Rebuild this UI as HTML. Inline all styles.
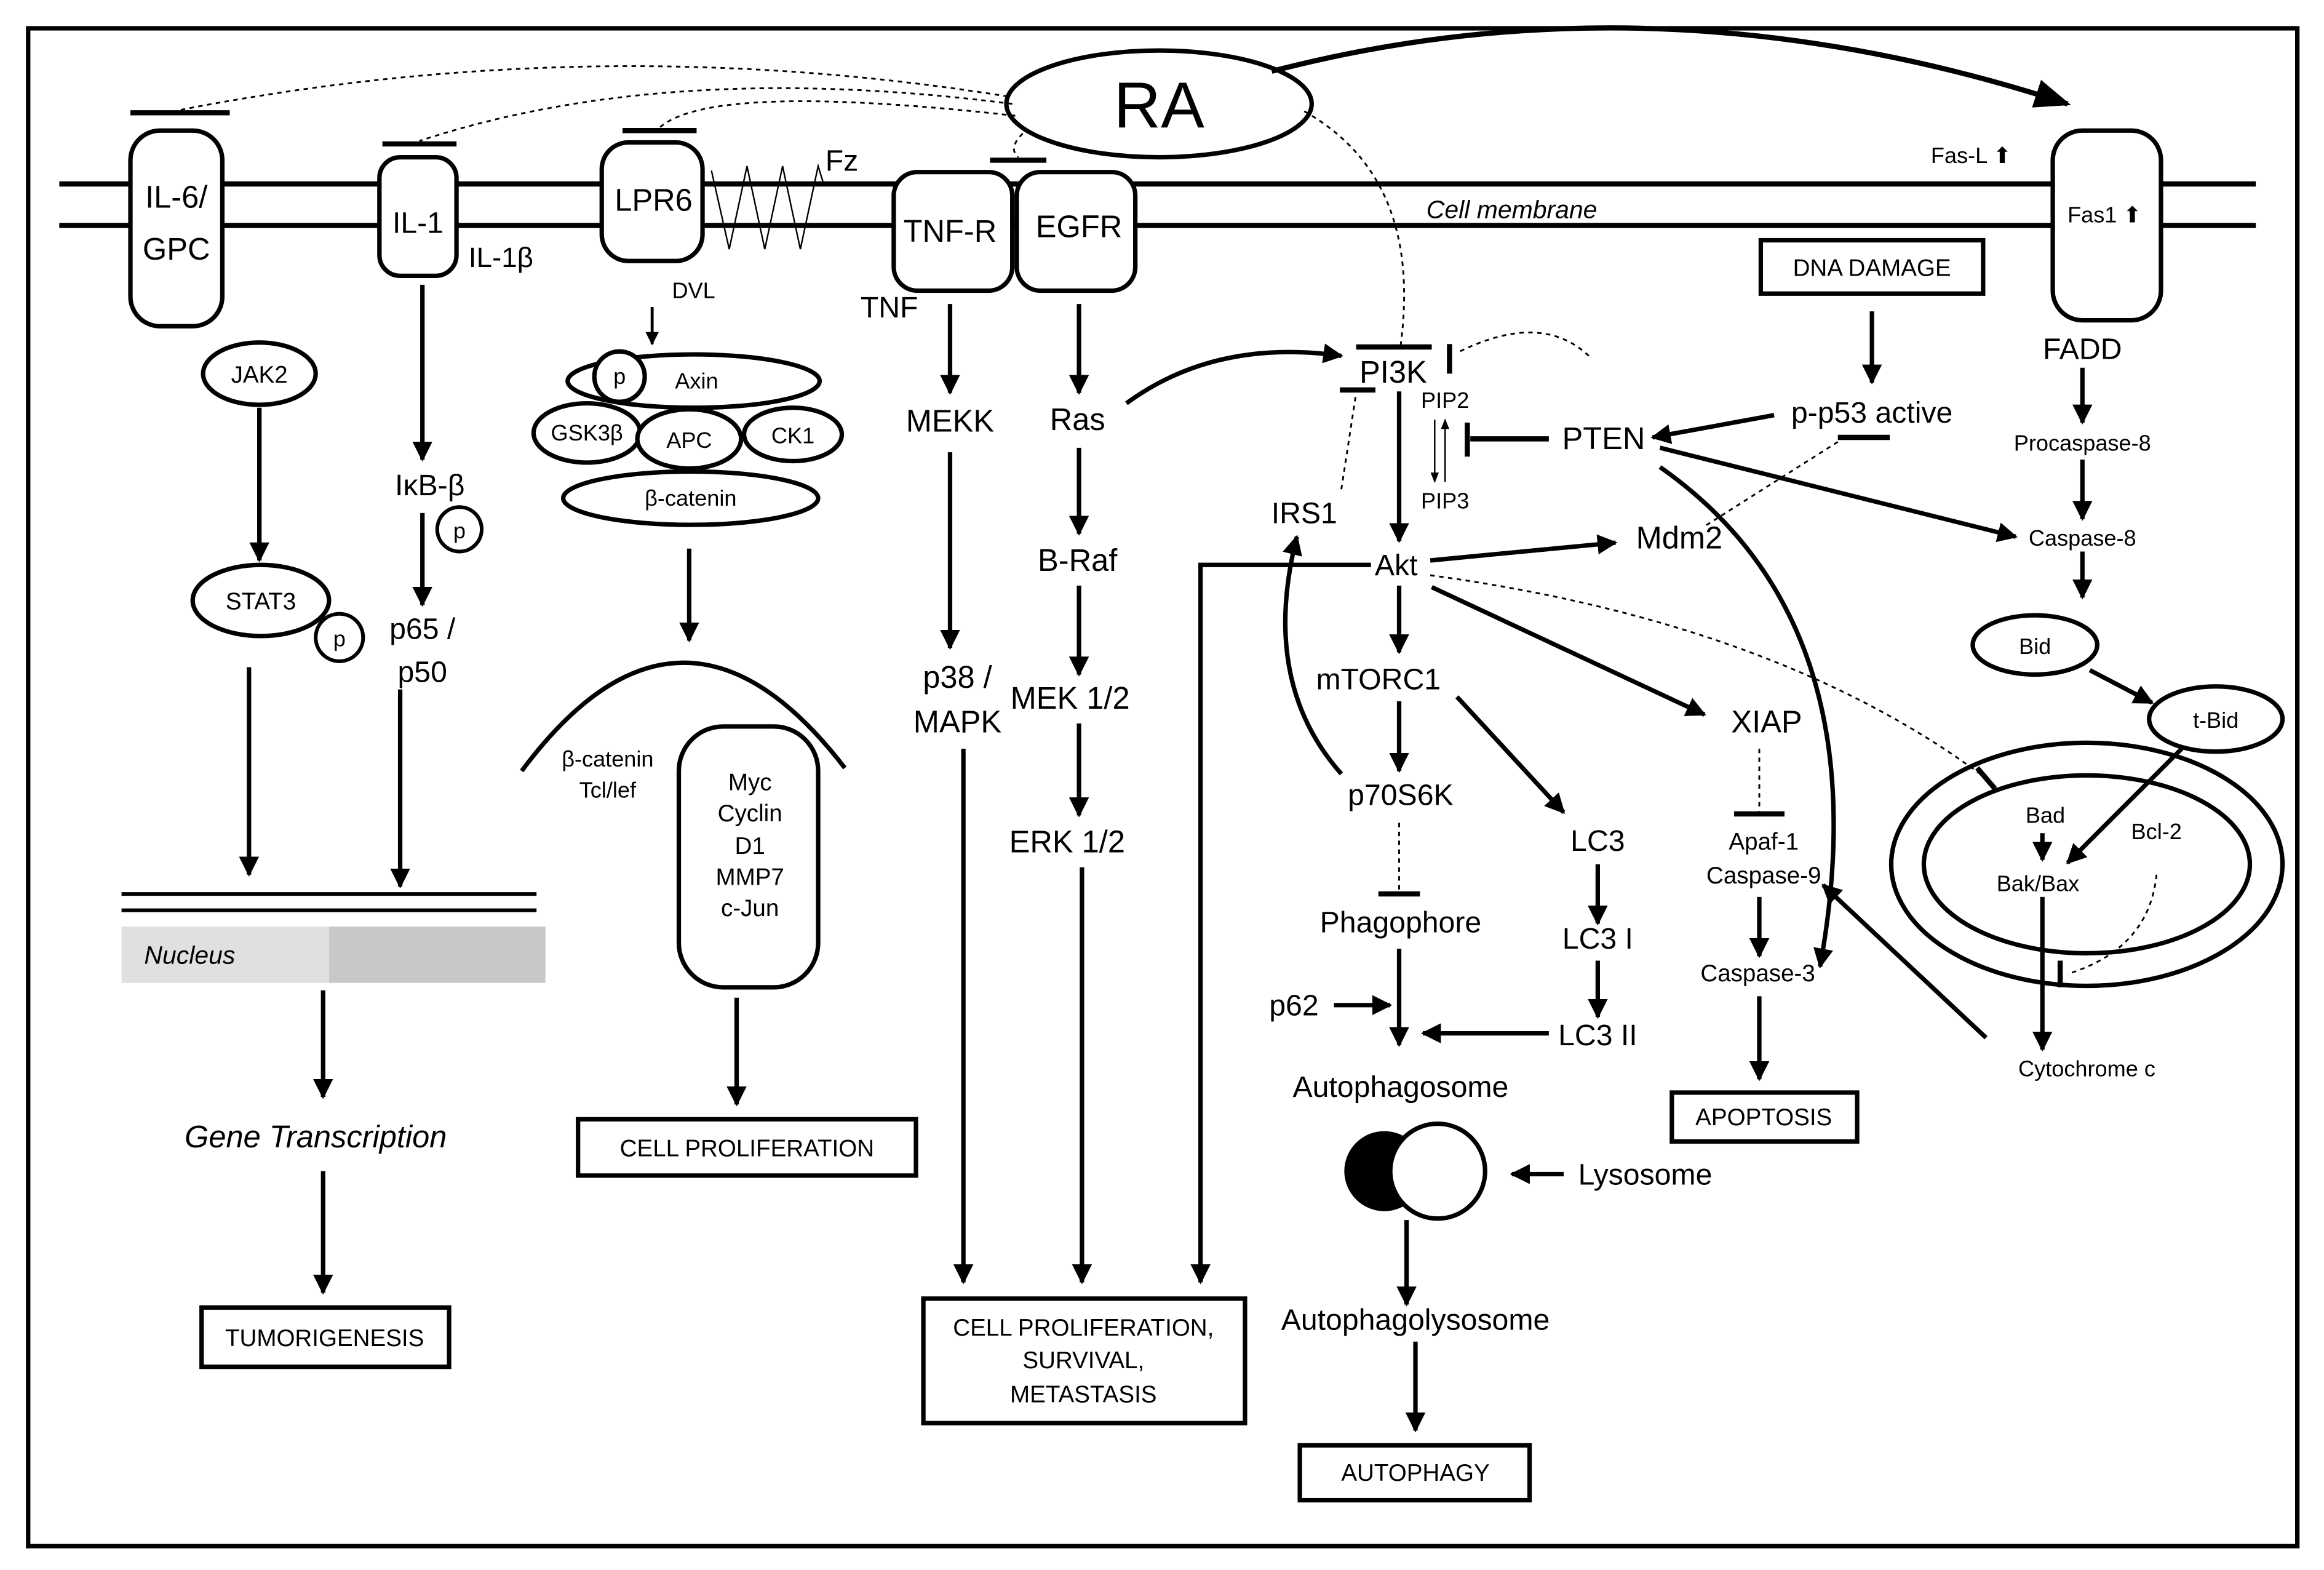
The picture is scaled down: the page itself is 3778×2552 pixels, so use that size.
<!DOCTYPE html>
<html><head><meta charset="utf-8"><style>
html,body{margin:0;padding:0;background:#fff;}
svg{display:block;}
text{font-family:"Liberation Sans",Arial,sans-serif;fill:#000;}
</style></head><body>
<svg width="3778" height="2552" viewBox="0 0 1568 1059" xmlns="http://www.w3.org/2000/svg">
<defs>
<marker id="a" viewBox="0 0 10 10" refX="9" refY="5" markerWidth="4.5" markerHeight="4.5" orient="auto-start-reverse" markerUnits="strokeWidth"><path d="M0,0 L10,5 L0,10 z" fill="#000"/></marker>
<marker id="as" viewBox="0 0 10 10" refX="9" refY="5" markerWidth="7" markerHeight="7" orient="auto" markerUnits="strokeWidth"><path d="M0,1 L10,5 L0,9 z" fill="#000"/></marker>
</defs>
<rect x="0" y="0" width="1568" height="1059" fill="#fff"/>
<rect x="19" y="19" width="1531" height="1024" fill="none" stroke="#000" stroke-width="3"/>

<g stroke="#000" stroke-width="3.5">
<line x1="40" y1="124" x2="1522" y2="124"/>
<line x1="40" y1="152" x2="1522" y2="152"/>
</g>
<g stroke="#000" stroke-width="3" fill="#fff">
<rect x="88" y="88" width="62" height="132" rx="20"/>
<rect x="256" y="106" width="52" height="80" rx="14"/>
<rect x="406" y="96" width="68" height="80" rx="18"/>
<rect x="603" y="116" width="80" height="80" rx="16"/>
<rect x="686" y="116" width="80" height="80" rx="16"/>
<rect x="1385" y="88" width="73" height="128" rx="20"/>
</g>
<g stroke="#000" stroke-width="3.5">
<line x1="88" y1="76" x2="155" y2="76"/>
<line x1="258" y1="97" x2="308" y2="97"/>
<line x1="420" y1="88" x2="470" y2="88"/>
<line x1="668" y1="108" x2="706" y2="108"/>
</g>
<polyline points="480,115 492,168 504,112 516,168 528,112 540,168 552,112 556,125" fill="none" stroke="#000" stroke-width="1"/>
<text x="119" y="140" font-size="21" text-anchor="middle">IL-6/</text>
<text x="119" y="175" font-size="21" text-anchor="middle">GPC</text>
<text x="282" y="157" font-size="20" text-anchor="middle">IL-1</text>
<text x="338" y="180" font-size="19" text-anchor="middle">IL-1β</text>
<text x="441" y="142" font-size="21" text-anchor="middle">LPR6</text>
<text x="568" y="115" font-size="20" text-anchor="middle">Fz</text>
<text x="641" y="163" font-size="21" text-anchor="middle">TNF-R</text>
<text x="728" y="160" font-size="21" text-anchor="middle">EGFR</text>
<text x="1420" y="150" font-size="15" text-anchor="middle">Fas1 ⬆</text>
<text x="1330" y="110" font-size="15" text-anchor="middle">Fas-L ⬆</text>
<text x="1020" y="147" font-size="17" font-style="italic" text-anchor="middle">Cell membrane</text>

<ellipse cx="782" cy="70" rx="103" ry="36" fill="#fff" stroke="#000" stroke-width="3"/>
<text x="782" y="86" font-size="44" text-anchor="middle">RA</text>
<path d="M858,48 Q1120,-20 1395,70" fill="none" stroke="#000" stroke-width="3.5" marker-end="url(#as)"/>
<g fill="none" stroke="#000" stroke-width="1.2" stroke-dasharray="3,3">
<path d="M680,65 Q400,20 122,74"/>
<path d="M683,70 Q450,40 283,95"/>
<path d="M685,78 Q480,55 445,86"/>
<path d="M690,90 Q680,100 687,106"/>
<path d="M880,75 Q960,120 945,233"/>
<path d="M1072,240 Q1040,210 985,237"/>
<path d="M905,330 L915,265"/>
<path d="M1240,298 L1150,355"/>
<path d="M965,388 Q1200,420 1340,525"/>
<path d="M1187,505 L1187,550"/>
<path d="M944,555 L944,603"/>
<path d="M1455,590 Q1450,640 1395,657"/>
</g>

<ellipse cx="175" cy="252" rx="38" ry="21" fill="#fff" stroke="#000" stroke-width="3"/>
<text x="175" y="258" font-size="16" text-anchor="middle">JAK2</text>
<ellipse cx="176" cy="405" rx="46" ry="24" fill="#fff" stroke="#000" stroke-width="3"/>
<text x="176" y="411" font-size="16" text-anchor="middle">STAT3</text>
<circle cx="229" cy="430" r="16" fill="#fff" stroke="#000" stroke-width="2.5"/>
<text x="229" y="436" font-size="15" text-anchor="middle">p</text>
<g stroke="#000" stroke-width="3" fill="none" marker-end="url(#a)">
<line x1="175" y1="275" x2="175" y2="378"/>
<line x1="168" y1="450" x2="168" y2="590"/>
<line x1="285" y1="192" x2="285" y2="310"/>
<line x1="285" y1="346" x2="285" y2="408"/>
<line x1="270" y1="465" x2="270" y2="598"/>
<line x1="218" y1="668" x2="218" y2="740"/>
<line x1="218" y1="790" x2="218" y2="872"/>
</g>
<text x="290" y="334" font-size="20" text-anchor="middle">IκB-β</text>
<circle cx="310" cy="357" r="15" fill="#fff" stroke="#000" stroke-width="2.5"/>
<text x="310" y="363" font-size="15" text-anchor="middle">p</text>
<text x="285" y="431" font-size="20" text-anchor="middle">p65 /</text>
<text x="285" y="460" font-size="20" text-anchor="middle">p50</text>
<line x1="82" y1="603" x2="362" y2="603" stroke="#000" stroke-width="2.5"/>
<line x1="82" y1="614" x2="362" y2="614" stroke="#000" stroke-width="2.5"/>
<rect x="82" y="625" width="140" height="38" fill="#e0e0e0"/>
<rect x="222" y="625" width="146" height="38" fill="#c8c8c8"/>
<text x="128" y="650" font-size="17" font-style="italic" text-anchor="middle">Nucleus</text>
<text x="213" y="774" font-size="21" font-style="italic" text-anchor="middle">Gene Transcription</text>
<rect x="136" y="882" width="167" height="40" fill="#fff" stroke="#000" stroke-width="3"/>
<text x="219" y="908" font-size="16" text-anchor="middle">TUMORIGENESIS</text>

<text x="468" y="201" font-size="15" text-anchor="middle">DVL</text>
<line x1="440" y1="207" x2="440" y2="232" stroke="#000" stroke-width="2" marker-end="url(#a)"/>
<g fill="#fff" stroke="#000" stroke-width="3">
<ellipse cx="468" cy="257" rx="85" ry="18"/>
<circle cx="418" cy="254" r="17"/>
<ellipse cx="396" cy="292" rx="36" ry="20"/>
<ellipse cx="465" cy="296" rx="35" ry="20"/>
<ellipse cx="535" cy="293" rx="33" ry="18"/>
<ellipse cx="466" cy="336" rx="86" ry="18"/>
</g>
<text x="418" y="259" font-size="15" text-anchor="middle">p</text>
<text x="470" y="262" font-size="15" text-anchor="middle">Axin</text>
<text x="396" y="297" font-size="15" text-anchor="middle">GSK3β</text>
<text x="465" y="302" font-size="15" text-anchor="middle">APC</text>
<text x="535" y="299" font-size="15" text-anchor="middle">CK1</text>
<text x="466" y="341" font-size="15" text-anchor="middle">β-catenin</text>
<line x1="465" y1="370" x2="465" y2="432" stroke="#000" stroke-width="3" marker-end="url(#a)"/>
<path d="M352,520 Q460,375 570,518" fill="none" stroke="#000" stroke-width="3"/>
<text x="410" y="517" font-size="15" text-anchor="middle">β-catenin</text>
<text x="410" y="538" font-size="15" text-anchor="middle">Tcl/lef</text>
<rect x="458" y="490" width="94" height="176" rx="30" fill="#fff" stroke="#000" stroke-width="3"/>
<g font-size="16" text-anchor="middle">
<text x="506" y="533">Myc</text><text x="506" y="554">Cyclin</text><text x="506" y="576">D1</text><text x="506" y="597">MMP7</text><text x="506" y="618">c-Jun</text>
</g>
<line x1="497" y1="673" x2="497" y2="745" stroke="#000" stroke-width="3" marker-end="url(#a)"/>
<rect x="390" y="755" width="228" height="38" fill="#fff" stroke="#000" stroke-width="3"/>
<text x="504" y="780" font-size="16" text-anchor="middle">CELL PROLIFERATION</text>

<text x="600" y="214" font-size="20" text-anchor="middle">TNF</text>
<g stroke="#000" stroke-width="3" fill="none" marker-end="url(#a)">
<line x1="641" y1="205" x2="641" y2="265"/>
<line x1="641" y1="305" x2="641" y2="437"/>
<line x1="650" y1="505" x2="650" y2="865"/>
<line x1="728" y1="205" x2="728" y2="265"/>
<line x1="728" y1="302" x2="728" y2="360"/>
<line x1="728" y1="395" x2="728" y2="455"/>
<line x1="728" y1="488" x2="728" y2="550"/>
<line x1="730" y1="585" x2="730" y2="865"/>
<polyline points="925,381 810,381 810,865"/>
<path d="M760,272 Q820,228 905,240"/>
</g>
<g font-size="21" text-anchor="middle">
<text x="641" y="291">MEKK</text>
<text x="646" y="464">p38 /</text>
<text x="646" y="494">MAPK</text>
<text x="727" y="290">Ras</text>
<text x="727" y="385">B-Raf</text>
<text x="722" y="478">MEK 1/2</text>
<text x="720" y="575">ERK 1/2</text>
</g>
<rect x="623" y="876" width="217" height="84" fill="#fff" stroke="#000" stroke-width="3"/>
<g font-size="16" text-anchor="middle">
<text x="731" y="901">CELL PROLIFERATION,</text><text x="731" y="923">SURVIVAL,</text><text x="731" y="946">METASTASIS</text>
</g>

<text x="940" y="258" font-size="21" text-anchor="middle">PI3K</text>
<g stroke="#000" stroke-width="3.5">
<line x1="915" y1="234" x2="966" y2="234"/>
<line x1="978" y1="232" x2="978" y2="252"/>
<line x1="904" y1="263" x2="928" y2="263"/>
<line x1="1045" y1="296" x2="992" y2="296"/>
<line x1="990" y1="285" x2="990" y2="308"/>
<line x1="1170" y1="549" x2="1204" y2="549"/>
<line x1="930" y1="603" x2="958" y2="603"/>
<line x1="1240" y1="295" x2="1275" y2="295"/>
<line x1="1334" y1="518" x2="1346" y2="532"/>
<line x1="1390" y1="648" x2="1390" y2="666"/>
</g>
<text x="975" y="275" font-size="15" text-anchor="middle">PIP2</text>
<text x="975" y="343" font-size="15" text-anchor="middle">PIP3</text>
<line x1="968" y1="283" x2="968" y2="325" stroke="#000" stroke-width="1" marker-end="url(#as)"/>
<line x1="975" y1="325" x2="975" y2="283" stroke="#000" stroke-width="1" marker-end="url(#as)"/>
<text x="1082" y="303" font-size="21" text-anchor="middle">PTEN</text>
<text x="880" y="353" font-size="20" text-anchor="middle">IRS1</text>
<text x="942" y="388" font-size="20" text-anchor="middle">Akt</text>
<text x="1133" y="370" font-size="21" text-anchor="middle">Mdm2</text>
<text x="930" y="465" font-size="20" text-anchor="middle">mTORC1</text>
<text x="945" y="543" font-size="20" text-anchor="middle">p70S6K</text>
<text x="945" y="629" font-size="20" text-anchor="middle">Phagophore</text>
<text x="873" y="685" font-size="20" text-anchor="middle">p62</text>
<text x="1078" y="574" font-size="20" text-anchor="middle">LC3</text>
<text x="1078" y="640" font-size="20" text-anchor="middle">LC3 I</text>
<text x="1078" y="705" font-size="20" text-anchor="middle">LC3 II</text>
<text x="945" y="740" font-size="20" text-anchor="middle">Autophagosome</text>
<circle cx="934" cy="790" r="27" fill="#000"/>
<circle cx="970" cy="790" r="32" fill="#fff" stroke="#000" stroke-width="3"/>
<text x="1110" y="799" font-size="20" text-anchor="middle">Lysosome</text>
<text x="955" y="897" font-size="20" text-anchor="middle">Autophagolysosome</text>
<rect x="877" y="975" width="155" height="37" fill="#fff" stroke="#000" stroke-width="3"/>
<text x="955" y="999" font-size="16" text-anchor="middle">AUTOPHAGY</text>
<g stroke="#000" stroke-width="3" fill="none" marker-end="url(#a)">
<line x1="944" y1="264" x2="944" y2="365"/>
<line x1="965" y1="378" x2="1090" y2="366"/>
<line x1="944" y1="395" x2="944" y2="440"/>
<line x1="944" y1="473" x2="944" y2="520"/>
<path d="M905,522 Q850,460 875,362"/>
<line x1="944" y1="640" x2="944" y2="705"/>
<line x1="900" y1="678" x2="938" y2="678"/>
<line x1="983" y1="470" x2="1055" y2="548"/>
<line x1="1078" y1="583" x2="1078" y2="623"/>
<line x1="1078" y1="648" x2="1078" y2="686"/>
<line x1="1045" y1="697" x2="960" y2="697"/>
<line x1="1055" y1="792" x2="1020" y2="792"/>
<line x1="949" y1="823" x2="949" y2="880"/>
<line x1="955" y1="905" x2="955" y2="965"/>
<line x1="966" y1="396" x2="1150" y2="482"/>
<line x1="1187" y1="605" x2="1187" y2="645"/>
<line x1="1187" y1="672" x2="1187" y2="728"/>
<line x1="1263" y1="210" x2="1263" y2="258"/>
<line x1="1197" y1="280" x2="1115" y2="295"/>
<line x1="1120" y1="302" x2="1360" y2="362"/>
<path d="M1120,315 Q1270,420 1228,652"/>
<line x1="1405" y1="248" x2="1405" y2="285"/>
<line x1="1405" y1="310" x2="1405" y2="350"/>
<line x1="1405" y1="372" x2="1405" y2="403"/>
<line x1="1410" y1="452" x2="1452" y2="474"/>
<line x1="1472" y1="505" x2="1395" y2="582"/>
<line x1="1378" y1="562" x2="1378" y2="580"/>
<line x1="1378" y1="605" x2="1378" y2="708"/>
<line x1="1340" y1="700" x2="1230" y2="597"/>
</g>

<text x="1192" y="494" font-size="21" text-anchor="middle">XIAP</text>
<text x="1190" y="573" font-size="16" text-anchor="middle">Apaf-1</text>
<text x="1190" y="596" font-size="16" text-anchor="middle">Caspase-9</text>
<text x="1186" y="662" font-size="16" text-anchor="middle">Caspase-3</text>
<rect x="1128" y="737" width="125" height="33" fill="#fff" stroke="#000" stroke-width="3"/>
<text x="1190" y="759" font-size="16" text-anchor="middle">APOPTOSIS</text>
<rect x="1188" y="162" width="150" height="36" fill="#fff" stroke="#000" stroke-width="3"/>
<text x="1263" y="186" font-size="16" text-anchor="middle">DNA DAMAGE</text>
<text x="1263" y="285" font-size="20" text-anchor="middle">p-p53 active</text>
<text x="1405" y="242" font-size="20" text-anchor="middle">FADD</text>
<text x="1405" y="304" font-size="15" text-anchor="middle">Procaspase-8</text>
<text x="1405" y="368" font-size="15" text-anchor="middle">Caspase-8</text>
<ellipse cx="1373" cy="435" rx="42" ry="20" fill="#fff" stroke="#000" stroke-width="3"/>
<text x="1373" y="441" font-size="15" text-anchor="middle">Bid</text>
<ellipse cx="1495" cy="485" rx="45" ry="22" fill="#fff" stroke="#000" stroke-width="3"/>
<text x="1495" y="491" font-size="15" text-anchor="middle">t-Bid</text>
<ellipse cx="1408" cy="583" rx="132" ry="82" fill="none" stroke="#000" stroke-width="3"/>
<ellipse cx="1408" cy="583" rx="110" ry="60" fill="none" stroke="#000" stroke-width="3"/>
<text x="1380" y="555" font-size="15" text-anchor="middle">Bad</text>
<text x="1375" y="601" font-size="15" text-anchor="middle">Bak/Bax</text>
<text x="1455" y="566" font-size="15" text-anchor="middle">Bcl-2</text>
<text x="1408" y="726" font-size="15" text-anchor="middle">Cytochrome c</text>
</svg>
</body></html>
